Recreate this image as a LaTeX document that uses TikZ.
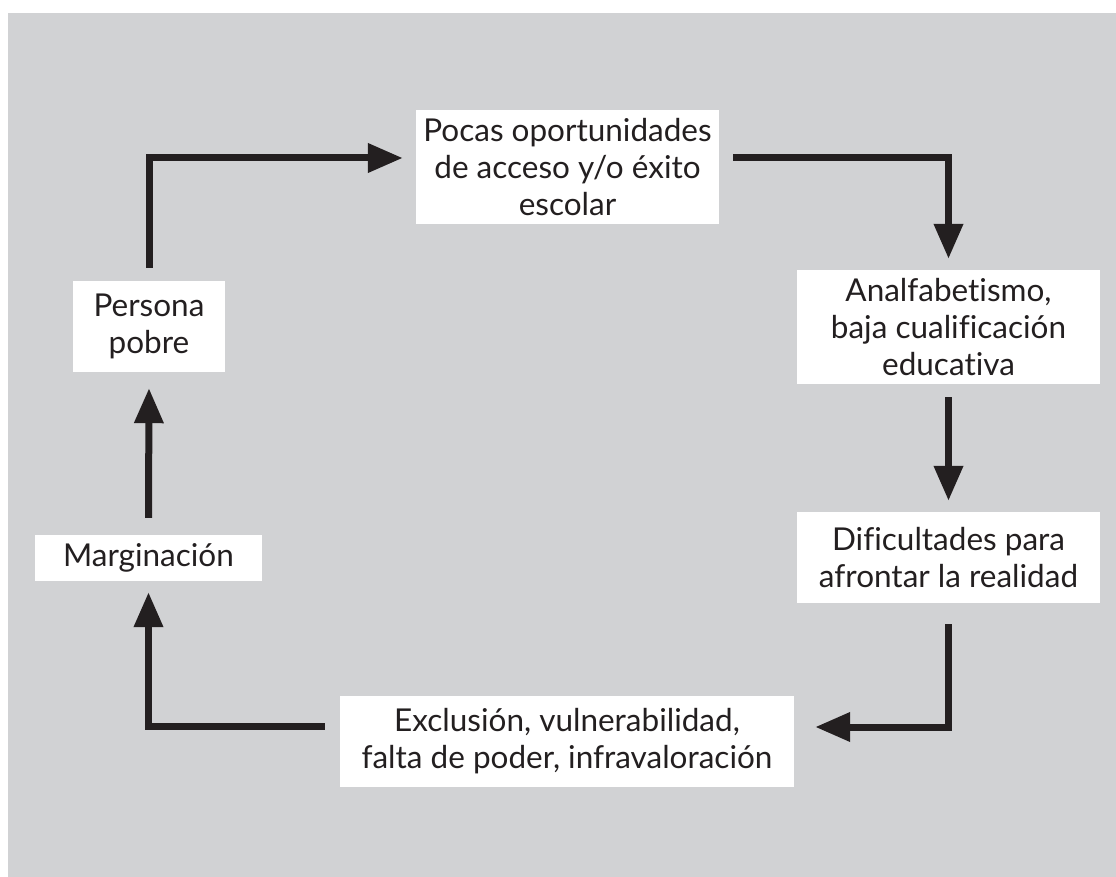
\documentclass[tikz,border=0pt]{standalone}
\usepackage{fontspec}
\setmainfont{Lato}[Ligatures=NoCommon]
\usetikzlibrary{arrows.meta}
\definecolor{bggray}{HTML}{D1D2D4}
\definecolor{ink}{HTML}{231F20}
\begin{document}
\begin{tikzpicture}[x=1pt,y=-1pt,
  box/.style={fill=white,inner sep=0pt,align=center,text=ink,
    font=\fontsize{31.5}{37}\selectfont},
  arr/.style={draw=ink,line width=7pt,line join=miter,
    -{Triangle[length=35pt,width=28pt]}}]
\useasboundingbox (0,0) rectangle (1116,877);
\fill[white] (0,0) rectangle (1116,877);
\fill[bggray] (8,13) rectangle (1116,877);
\node[box,minimum width=303pt,minimum height=114pt] (pocas) at (567.5,167) {Pocas oportunidades\\de acceso y/o éxito\\escolar};
\node[box,minimum width=303pt,minimum height=114pt] (analf) at (948.5,327) {Analfabetismo,\\baja cualificación\\educativa};
\node[box,minimum width=303pt,minimum height=91pt] (dific) at (948.5,557.5) {Dificultades para\\afrontar la realidad};
\node[box,minimum width=454pt,minimum height=91pt] (excl) at (567,741.5) {Exclusión, vulnerabilidad,\\falta de poder, infravaloración};
\node[box,minimum width=227pt,minimum height=46pt] (marg) at (148.5,558) {Marginación};
\node[box,minimum width=152pt,minimum height=91pt] (persona) at (149,326.5) {Persona\\pobre};
\draw[arr] ([yshift=13pt]persona.north) |- ([xshift=-13pt,yshift=9pt]pocas.west);
\draw[arr] ([xshift=14pt,yshift=9pt]pocas.east) -| ([yshift=11pt]analf.north);
\draw[arr] ([yshift=-13pt]analf.south) -- ([yshift=11pt]dific.north);
\draw[arr] ([yshift=-21pt]dific.south) |- ([xshift=21pt,yshift=14.5pt]excl.east);
\draw[arr] ([xshift=-15pt,yshift=15.5pt]excl.west) -| ([yshift=-11pt]marg.south);
\draw[arr] ([yshift=17pt]marg.north) -- ([yshift=-16pt]persona.south);
\end{tikzpicture}
\end{document}
